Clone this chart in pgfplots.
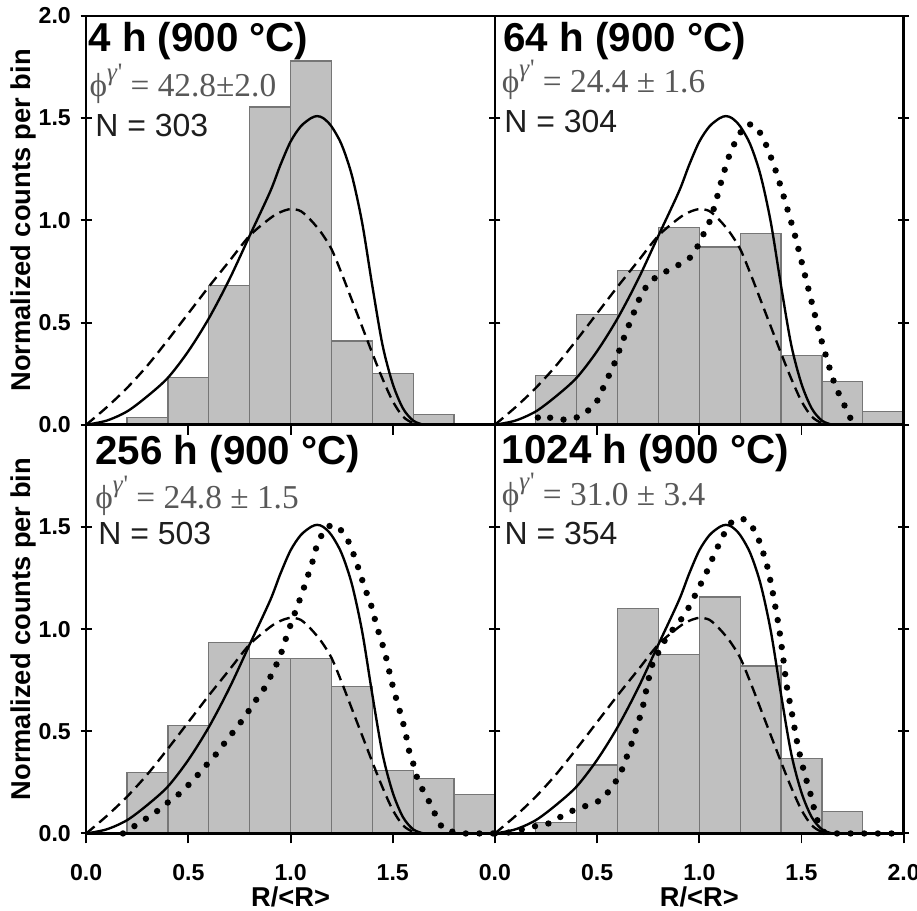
\documentclass[border=0pt]{standalone}
\usepackage{pgfplots}
\pgfplotsset{compat=1.18}
\usepackage{pgfplotstable}
\usepgfplotslibrary{groupplots}
\usepackage{fontspec}
\setmainfont{Liberation Sans}
\newfontfamily\tms{Liberation Serif}
\definecolor{barfill}{RGB}{192,192,192}
\definecolor{baredge}{RGB}{118,118,118}
\definecolor{phigray}{RGB}{88,88,88}
\definecolor{ngray}{RGB}{30,30,30}

\pgfplotstableread{
x y
0 0
0.1 0.02
0.2 0.065
0.3 0.14
0.4 0.23
0.5 0.36
0.6 0.52
0.7 0.71
0.8 0.925
0.9 1.14
0.95 1.27
1.0 1.385
1.05 1.46
1.1 1.50
1.13 1.51
1.16 1.50
1.2 1.46
1.25 1.37
1.3 1.22
1.35 0.99
1.4 0.68
1.45 0.39
1.5 0.20
1.55 0.08
1.6 0.02
1.65 0
}\solidc

\pgfplotstableread{
x y
0 0
0.1 0.085
0.2 0.18
0.3 0.29
0.4 0.415
0.5 0.545
0.6 0.675
0.7 0.80
0.8 0.925
0.9 1.01
0.95 1.04
1.0 1.055
1.05 1.045
1.1 1.0
1.15 0.94
1.2 0.86
1.25 0.74
1.3 0.61
1.35 0.48
1.4 0.35
1.45 0.225
1.5 0.115
1.55 0.04
1.6 0.008
1.65 0
}\dashc

\pgfplotstableread{
x y
0.2 0.035
0.4 0.23
0.6 0.68
0.8 1.555
1.0 1.78
1.2 0.41
1.4 0.25
1.6 0.05
1.8 0
}\hA

\pgfplotstableread{
x y
0.2 0.24
0.4 0.54
0.6 0.755
0.8 0.965
1.0 0.87
1.2 0.935
1.4 0.34
1.6 0.21
1.8 0.065
2.0 0
}\hB

\pgfplotstableread{
x y
0.2 0.298
0.4 0.529
0.6 0.935
0.8 0.857
1.0 0.857
1.2 0.719
1.4 0.309
1.6 0.268
1.8 0.19
2.0 0
}\hC

\pgfplotstableread{
x y
0.2 0.055
0.4 0.335
0.6 1.10
0.8 0.876
1.0 1.157
1.2 0.819
1.4 0.366
1.6 0.109
1.8 0
}\hD

\pgfplotstableread{
x y
0.21 0.035
0.239 0.049
0.275 0.032
0.312 0.025
0.374 0.025
0.439 0.052
0.499 0.114
0.556 0.237
0.589 0.31
0.637 0.441
0.686 0.564
0.715 0.637
0.759 0.703
0.824 0.743
0.889 0.776
0.954 0.817
0.998 0.882
1.024 0.94
1.06 1.013
1.076 1.078
1.096 1.144
1.112 1.209
1.133 1.275
1.154 1.34
1.187 1.405
1.223 1.466
1.255 1.47
1.288 1.446
1.32 1.386
1.345 1.324
1.369 1.258
1.39 1.193
1.41 1.127
1.43 1.059
1.45 0.99
1.47 0.92
1.49 0.84
1.51 0.76
1.53 0.68
1.55 0.60
1.57 0.52
1.59 0.44
1.61 0.37
1.635 0.285
1.66 0.205
1.69 0.135
1.72 0.075
1.745 0.02
1.76 0
}\dotB

\pgfplotstableread{
x y
0.18 0
0.2 0.011
0.262 0.054
0.327 0.093
0.392 0.146
0.461 0.198
0.523 0.26
0.584 0.33
0.641 0.394
0.693 0.464
0.742 0.524
0.788 0.589
0.837 0.662
0.878 0.719
0.911 0.786
0.944 0.854
0.965 0.914
0.984 0.976
1.009 1.046
1.034 1.114
1.058 1.179
1.079 1.245
1.102 1.31
1.132 1.423
1.173 1.497
1.205 1.51
1.238 1.497
1.284 1.427
1.308 1.367
1.331 1.301
1.352 1.236
1.377 1.163
1.401 1.098
1.418 1.025
1.439 0.96
1.459 0.895
1.475 0.83
1.491 0.756
1.508 0.691
1.529 0.618
1.549 0.548
1.565 0.48
1.581 0.399
1.606 0.325
1.622 0.26
1.655 0.198
1.688 0.138
1.72 0.065
1.745 0.024
1.794 0.008
1.835 0
2.0 0
}\dotC

\pgfplotstableread{
x y
0.0 0
0.07 0.005
0.133 0.02
0.198 0.036
0.263 0.049
0.328 0.085
0.393 0.118
0.455 0.138
0.52 0.163
0.572 0.224
0.613 0.289
0.637 0.354
0.662 0.419
0.683 0.485
0.702 0.545
0.722 0.61
0.735 0.676
0.748 0.738
0.764 0.806
0.78 0.86
0.8 0.885
0.824 0.934
0.865 0.991
0.927 1.067
0.966 1.138
0.995 1.198
1.028 1.26
1.057 1.329
1.085 1.391
1.117 1.459
1.158 1.524
1.19 1.54
1.223 1.537
1.26 1.50
1.29 1.44
1.31 1.38
1.324 1.342
1.34 1.276
1.353 1.211
1.366 1.146
1.377 1.08
1.389 1.015
1.398 0.95
1.407 0.885
1.415 0.823
1.423 0.754
1.433 0.689
1.447 0.623
1.46 0.55
1.47 0.493
1.482 0.428
1.498 0.36
1.514 0.297
1.53 0.24
1.545 0.19
1.557 0.14
1.575 0.07
1.6 0.015
1.62 0
2.0 0
}\dotD

\pgfplotsset{
  solidline/.style={black, line width=0.85pt, smooth, tension=0.5},
  dashline/.style={black, line width=0.85pt, dash pattern=on 3.9pt off 2.2pt, smooth, tension=0.5},
  dotline/.style={black, line width=2.3pt, line cap=round, line join=round, dash pattern=on 0pt off 4.9pt},
  hist/.style={ybar interval, fill=barfill, draw=baredge, line width=0.45pt},
}

\newcommand{\ttl}{\bfseries\fontsize{14.5}{16}\selectfont}
\newcommand{\ntx}{\fontsize{11.5}{13}\selectfont\color{ngray}}
\newcommand{\phit}[1]{{\tms\fontsize{12}{13}\selectfont\color{phigray}ϕ\raisebox{1.05ex}{\fontsize{9}{10}\selectfont\itshape γ\upshape\kern0.3pt'}#1}}

\begin{document}
\begin{tikzpicture}
\begin{groupplot}[
  group style={group size=2 by 2, horizontal sep=0pt, vertical sep=0pt,
    xticklabels at=edge bottom, yticklabels at=edge left, group name=group},
  width=147pt, height=147pt, scale only axis,
  xmin=0, xmax=2, ymin=0, ymax=2,
  xtick={0,0.5,1,1.5,2}, ytick={0,0.5,1,1.5,2},
  tick align=center, major tick length=4pt,
  xtick pos=bottom, ytick pos=both,
  xtick style={yshift=-1.6pt},
  axis line style={line width=0.9pt},
  tick style={black, line width=0.7pt},
  tick label style={font=\bfseries\fontsize{8.3}{9}\selectfont,
    /pgf/number format/fixed, /pgf/number format/fixed zerofill,
    /pgf/number format/precision=1, /pgf/number format/assume math mode=true},
  xticklabel style={yshift=-5.5pt},
  label style={font=\bfseries\fontsize{9.8}{11}\selectfont},
  ylabel shift=-6pt,
  xlabel style={at={(rel axis cs:0.5,0)}, anchor=base, inner sep=0pt, yshift=-26.2pt},
  axis on top, clip=false,
]
% 4 h
\nextgroupplot[ylabel={Normalized counts per bin}]
\addplot[hist] table {\hA};
\addplot[dashline] table {\dashc};
\addplot[solidline] table {\solidc};
\node[anchor=base west, inner sep=0pt, font=\ttl] at ([shift={(0.6pt,-12.9pt)}]rel axis cs:0,1) {4 h (900 °C)};
\node[anchor=base west, inner sep=0pt] at ([shift={(1pt,-29.1pt)}]rel axis cs:0,1) {\phit{ = 42.8±2.0}};
\node[anchor=base west, inner sep=0pt, font=\ntx] at ([shift={(3.1pt,-43.2pt)}]rel axis cs:0,1) {N = 303};
% 64 h
\nextgroupplot
\addplot[hist] table {\hB};
\addplot[dashline] table {\dashc};
\addplot[solidline] table {\solidc};
\addplot[dotline] table {\dotB};
\node[anchor=base west, inner sep=0pt, font=\ttl] at ([shift={(2.9pt,-12.9pt)}]rel axis cs:0,1) {64 h (900 °C)};
\node[anchor=base west, inner sep=0pt] at ([shift={(2.3pt,-27.6pt)}]rel axis cs:0,1) {\phit{ = 24.4 ± 1.6}};
\node[anchor=base west, inner sep=0pt, font=\ntx] at ([shift={(3.2pt,-41.8pt)}]rel axis cs:0,1) {N = 304};
% 256 h
\nextgroupplot[ylabel={Normalized counts per bin}, xlabel={R/<R>}, ytick={0,0.5,1,1.5}, xtick={0,0.5,1,1.5}]
\addplot[hist] table {\hC};
\addplot[dashline] table {\dashc};
\addplot[solidline] table {\solidc};
\addplot[dotline] table {\dotC};
\node[anchor=base west, inner sep=0pt, font=\ttl] at ([shift={(3.1pt,-14.4pt)}]rel axis cs:0,1) {256 h (900 °C)};
\node[anchor=base west, inner sep=0pt] at ([shift={(3.1pt,-30pt)}]rel axis cs:0,1) {\phit{ = 24.8 ± 1.5}};
\node[anchor=base west, inner sep=0pt, font=\ntx] at ([shift={(4.2pt,-43.2pt)}]rel axis cs:0,1) {N = 503};
% 1024 h
\nextgroupplot[xlabel={R/<R>}]
\addplot[hist] table {\hD};
\addplot[dashline] table {\dashc};
\addplot[solidline] table {\solidc};
\addplot[dotline] table {\dotD};
\node[anchor=base west, inner sep=0pt, font=\ttl] at ([shift={(2.3pt,-13.8pt)}]rel axis cs:0,1) {1024 h (900 °C)};
\node[anchor=base west, inner sep=0pt] at ([shift={(2.3pt,-29pt)}]rel axis cs:0,1) {\phit{ = 31.0 ± 3.4}};
\node[anchor=base west, inner sep=0pt, font=\ntx] at ([shift={(3.3pt,-43.2pt)}]rel axis cs:0,1) {N = 354};
\end{groupplot}
\pgfresetboundingbox
\path ([shift={(-31pt,-27.7pt)}]group c1r2.south west) rectangle ([shift={(4.8pt,5.75pt)}]group c2r1.north east);
\end{tikzpicture}
\end{document}
